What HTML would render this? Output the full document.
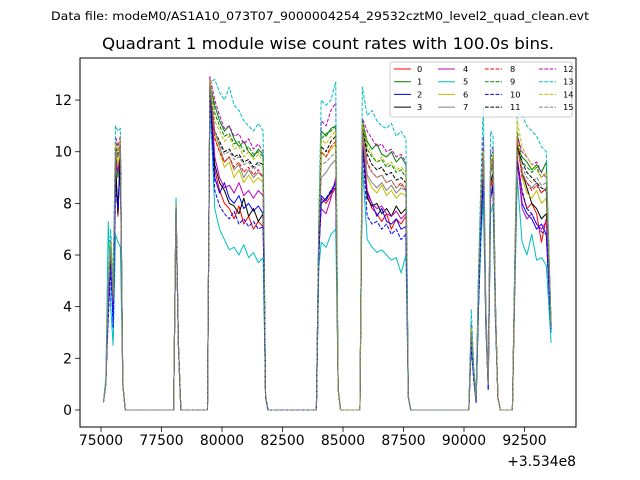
<!DOCTYPE html>
<html><head><meta charset="utf-8"><style>
html,body{margin:0;padding:0;background:#fff;}
svg{display:block;font-family:"DejaVu Sans","Liberation Sans",sans-serif;}
</style></head><body>
<svg id="chart" width="640" height="480" viewBox="0 0 640 480" xmlns="http://www.w3.org/2000/svg">
<rect x="0" y="0" width="640" height="480" fill="#fff"/>
<text x="320" y="20" font-size="11.5" text-anchor="middle" textLength="538" lengthAdjust="spacingAndGlyphs">Data file: modeM0/AS1A10_073T07_9000004254_29532cztM0_level2_quad_clean.evt</text>
<text x="328" y="49" font-size="16" text-anchor="middle" textLength="452" lengthAdjust="spacingAndGlyphs">Quadrant 1 module wise count rates with 100.0s bins.</text>
<g id="plot"></g>
<g id="axes"></g>
<g id="legend"></g>
</svg>
<script>
const times=[75100,75200,75300,75400,75500,75600,75700,75800,75900,76000,
78000,78100,78200,78300,
79400,79500,79700,79900,80100,80300,80500,80700,80900,81100,81300,81500,81700,81800,81900,
83900,84000,84100,84300,84500,84700,84800,84900,
85700,85800,86000,86200,86400,86600,86800,87000,87200,87400,87600,87700,87800,
90200,90300,90400,90500,90600,90700,90800,90900,91000,91100,91200,91300,91400,91500,
92000,92100,92200,92400,92600,92800,93000,93200,93400,93600];
const s0=[.3,1,4.5,6,4,9.5,7.5,10,1,0, 0,7.8,2.5,0, 0,12.5,9.3,8.5,8.0,7.8,7.4,7.9,7.2,7.5,7.0,7.3,7.1,0.5,0, 0,6,8.2,8.0,8.3,8.6,0.8,0, 0,10.5,8.3,7.8,7.6,7.3,7.6,7.0,7.4,7.2,7.5,0.5,0, 0,2.8,1.4,0.4,4.5,7.5,9.3,3.6,1.0,8.6,9.0,3.8,0.5,0, 0,5,9.8,8.4,7.8,8.0,7.6,6.5,7.4,3.2];
const s1=[.3,1,5,6.5,4.5,10,9,10.2,1,0, 0,8,2.5,0, 0,12.6,11.8,11.2,10.8,11,10.5,10.2,10.4,10,9.8,10.1,9.9,0.5,0, 0,7,10.8,10.6,10.9,11,0.8,0, 0,11.2,10.4,10.1,10.3,9.9,9.8,10,9.6,9.8,9.5,0.5,0, 0,3,1.5,0.4,5,8,9.8,3.8,1,9.2,9.4,4,0.5,0, 0,5.5,10.2,9.8,9.6,9.3,9.5,9.2,9.6,3.3];
const s2=[.3,1,4,5.8,3.5,8.8,8,9.5,1,0, 0,7.6,2.5,0, 0,12.4,9.0,8.4,8.8,8.2,8.0,8.3,7.8,8.0,7.7,7.9,7.6,0.5,0, 0,6,8.3,8.1,8.5,8.6,0.8,0, 0,10.3,8.4,8.0,7.5,7.8,7.3,7.2,7.4,7.0,7.1,0.5,0, 0,2.5,1.2,0.3,4,7,9,3.4,0.8,8.2,8.8,3.6,0.5,0, 0,5,9.6,8.0,7.6,7.4,7.0,7.2,6.8,3.0];
const s3=[.3,1,4.5,6,4,9.6,7.6,10,1,0, 0,7.8,2.5,0, 0,12.5,9.5,8.8,8.5,8.0,7.9,7.6,8.2,7.5,7.8,7.3,7.6,0.5,0, 0,6.5,8.0,8.2,8.4,8.8,0.8,0, 0,10.6,8.2,7.9,8.0,7.6,7.8,7.5,7.9,7.6,7.8,0.5,0, 0,3.3,1.5,0.4,4.6,7.6,9.5,3.7,1,8.8,9.2,3.8,0.5,0, 0,5.2,10.4,9.2,8.6,8.0,7.8,7.4,7.6,3.2];
const s4=[.3,1,4,5.5,3.8,9.8,9.2,10.3,1,0, 0,7.9,2.5,0, 0,12.9,9.8,9.0,8.6,8.7,8.4,8.8,8.3,8.5,8.2,8.5,8.3,0.5,0, 0,6.3,7.8,7.6,8.2,9,0.8,0, 0,10.7,8.5,8.0,7.8,7.9,7.6,7.5,7.7,7.4,7.6,0.5,0, 0,3,1.4,0.4,4.8,7.8,9.7,3.8,1,9.4,9.6,3.9,0.5,0, 0,5.3,9.8,7.8,7.4,7.6,7.2,7.0,7.3,3.0];
const s5=[.3,1.2,7.3,4,2.5,6.8,6.5,6.3,1,0, 0,8.2,2.5,0, 0,12.0,7.8,7.0,6.6,6.2,6.3,6.0,6.4,5.9,6.1,5.7,5.9,0.5,0, 0,5.5,6.5,6.3,6.8,7.0,0.8,0, 0,9.5,6.6,6.3,6.1,6.2,6.0,5.8,5.9,5.3,6.0,0.5,0, 0,2.5,1.2,0.3,4,6.5,8.2,3.3,0.9,7.6,8.0,3.4,0.5,0, 0,4.5,9.0,6.5,6.0,6.8,5.8,5.9,5.6,2.6];
const s6=[.3,1,5,6.5,4.5,10.2,9.5,10,1,0, 0,7.8,2.5,0, 0,12.6,10.6,10.0,9.4,9.6,9.0,9.3,8.8,9.1,8.8,9.0,8.8,0.5,0, 0,6.8,10.0,9.8,10.1,10.3,0.8,0, 0,10.9,9.0,8.6,8.4,8.7,8.3,8.5,8.2,8.4,8.3,0.5,0, 0,3.1,1.5,0.4,4.8,8,10,3.9,1,9.5,9.8,4,0.5,0, 0,5.5,10.6,9.0,8.4,8.2,8.5,8.0,8.2,3.2];
const s7=[.3,1,4.8,6.2,4.2,10,9.8,10.1,1,0, 0,7.8,2.5,0, 0,12.5,10.8,10.2,9.6,9.8,9.3,9.5,9.0,9.3,9.0,9.2,9.0,0.5,0, 0,6.8,9.0,9.2,9.5,9.7,0.8,0, 0,10.8,9.1,8.8,8.6,8.8,8.5,8.7,8.4,8.6,8.5,0.5,0, 0,3,1.4,0.4,4.7,7.8,9.8,3.8,1,9.2,9.5,3.9,0.5,0, 0,5.4,10.2,9.2,8.8,8.6,8.8,8.4,8.6,3.2];
const s8=[.3,1,4.8,6.3,4.3,10.3,9.8,10.4,1,0, 0,7.9,2.5,0, 0,12.7,10.5,10.0,9.6,9.8,9.4,9.6,9.2,9.4,9.1,9.3,9.0,0.5,0, 0,7,10.0,9.8,10.2,10.4,0.8,0, 0,11,9.6,9.2,9.0,9.1,8.8,8.9,8.6,8.8,8.5,0.5,0, 0,3,1.5,0.4,4.7,7.9,9.8,3.8,1,9.3,9.6,3.9,0.5,0, 0,5.5,10.4,9.0,8.8,8.5,8.7,8.4,8.6,3.2];
const s9=[.3,1,5,6.5,4.5,10.4,10,10.6,1,0, 0,8,2.5,0, 0,12.8,11.5,11.0,10.6,10.7,10.3,10.4,10.0,10.2,9.9,10.0,9.8,0.5,0, 0,7,10.5,10.7,10.8,11,0.8,0, 0,11.2,10.1,9.8,9.6,9.7,9.4,9.5,9.2,9.3,9.0,0.5,0, 0,3.2,1.5,0.4,5,8.2,10,3.9,1,9.5,9.8,4,0.5,0, 0,5.6,10.8,9.6,9.4,9.2,9.4,9.0,9.2,3.3];
const s10=[.3,1,3.5,5.5,3.2,8.5,7.8,9.3,1,0, 0,7.5,2.5,0, 0,12.3,8.5,7.9,7.6,7.4,7.7,7.2,7.4,7.1,7.3,7.0,7.1,0.5,0, 0,6,8.0,8.2,8.5,8.8,0.8,0, 0,10.2,7.5,7.2,7.3,7.0,7.2,6.8,7.0,6.6,6.8,0.5,0, 0,2.6,1.2,0.3,4,7,9,3.4,0.8,8.2,8.6,3.5,0.5,0, 0,5,9.6,8.5,7.8,7.6,7.2,6.9,6.8,3.0];
const s11=[.3,1,5,6.4,4.4,10.2,9.9,10.4,1,0, 0,7.9,2.5,0, 0,12.6,10.8,10.4,10.0,10.1,9.8,9.9,9.6,9.7,9.4,9.6,9.5,0.5,0, 0,7,10.2,10.0,10.4,10.6,0.8,0, 0,11,9.9,9.5,9.3,9.4,9.1,9.2,8.9,9.0,8.8,0.5,0, 0,3.2,1.5,0.4,5,8.2,10,3.9,1,9.8,10,4,0.5,0, 0,5.6,10.2,9.6,9.2,9.0,8.8,8.6,8.5,3.2];
const s12=[.3,1,5.2,6.6,4.6,10.6,10.2,10.6,1,0, 0,8,2.5,0, 0,12.9,12.0,11.4,10.9,11.0,10.6,10.7,10.3,10.5,10.1,10.3,10.0,0.5,0, 0,7.2,11.2,11.0,11.6,11.9,0.8,0, 0,11.3,10.8,10.5,10.2,10.3,10.0,10.1,9.8,9.9,9.6,0.5,0, 0,3.3,1.6,0.4,5.2,8.5,10.6,4,1,10,10.2,4.1,0.5,0, 0,5.8,10.6,10.0,9.8,9.5,9.6,9.2,9.0,3.3];
const s13=[.3,1.2,5.5,7,5,11,10.8,10.9,1,0, 0,8.2,2.5,0, 0,12.7,12.8,12.3,12.0,12.5,11.8,11.6,11.2,11.0,10.8,11.1,10.8,0.5,0, 0,7.5,12.0,11.8,12.0,12.7,0.8,0, 0,12.5,11.4,11.6,11.2,11.0,10.9,11.1,10.6,10.8,10.5,0.5,0, 0,3.9,1.8,0.5,5.5,9,11.8,4.2,1.1,10.8,10.6,4.3,0.5,0, 0,6,11.5,11.4,11.0,10.8,10.6,10.2,10.0,3.0];
const s14=[.3,1,5,6.5,4.5,10.3,10,10.5,1,0, 0,7.9,2.5,0, 0,12.8,11.2,10.8,10.4,10.6,10.1,10.2,9.8,10.0,9.7,9.9,9.6,0.5,0, 0,7,10.5,10.3,10.6,10.8,0.8,0, 0,11.1,10.3,9.9,9.6,9.8,9.5,9.6,9.3,9.4,9.2,0.5,0, 0,3.2,1.5,0.4,5,8.2,10,3.9,1,9.6,9.9,4,0.5,0, 0,5.6,11.2,10.2,9.8,9.5,9.3,9.0,9.2,3.2];
const s15=[.3,1,4.8,6.3,4.3,10.1,9.8,10.3,1,0, 0,7.8,2.5,0, 0,12.6,10.8,10.3,9.9,10.0,9.7,9.8,9.5,9.6,9.3,9.5,9.4,0.5,0, 0,6.8,9.5,9.6,9.8,10.0,0.8,0, 0,10.9,9.5,9.2,9.0,9.1,8.8,8.9,8.6,8.7,8.6,0.5,0, 0,3,1.5,0.4,4.8,8,9.8,3.8,1,9.3,9.6,3.9,0.5,0, 0,5.4,10.0,9.4,9.0,8.8,9.0,8.7,8.8,3.2];
const seriesNames=["0","1","2","3","4","5","6","7","8","9","10","11","12","13","14","15"];
const xTicks=[75000,77500,80000,82500,85000,87500,90000,92500];
const xTickLabels=["75000","77500","80000","82500","85000","87500","90000","92500"];
const yTicks=[0,2,4,6,8,10,12];
const yTickLabels=["0","2","4","6","8","10","12"];

const allSeries=[s0,s1,s2,s3,s4,s5,s6,s7,s8,s9,s10,s11,s12,s13,s14,s15];
const colors=["#ff0000","#008000","#0000ff","#000000","#bf00bf","#00bfbf","#bfbf00","#808080"];
const NS="http://www.w3.org/2000/svg";
const L=80,R=576,T=58,B=427;
const xMin=74132,xMax=94628,yMin=-0.66,yMax=13.63;
function xs(v){return L+(v-xMin)/(xMax-xMin)*(R-L);}
function ys(v){return B-(v-yMin)/(yMax-yMin)*(B-T);}
function mk(tag,attrs,parent){const e=document.createElementNS(NS,tag);for(const k in attrs)e.setAttribute(k,attrs[k]);parent.appendChild(e);return e;}
const plot=document.getElementById('plot'),axes=document.getElementById('axes'),legend=document.getElementById('legend');

allSeries.forEach((s,i)=>{
  const d=s.map((v,j)=>(j?'L':'M')+xs(times[j]).toFixed(2)+','+ys(v).toFixed(2)).join('');
  const p=mk('path',{d:d,fill:'none',stroke:colors[i%8],'stroke-width':1,'stroke-linejoin':'round'},plot);
  if(i>=8)p.setAttribute('stroke-dasharray','3.7,1.6');
  
  
});

const frame=mk('rect',{x:L,y:T,width:R-L,height:B-T,fill:'none',stroke:'#000','stroke-width':1},axes);


xTicks.forEach((v,i)=>{
  const x=xs(v);
  const t=mk('line',{x1:x,y1:B,x2:x,y2:B+4.9,stroke:'#000','stroke-width':0.8},axes);
  
  
  const lb=mk('text',{x:x,y:B+18,'font-size':13.9,'text-anchor':'middle'},axes);
  lb.textContent=xTickLabels[i];
  
  
});
yTicks.forEach((v,i)=>{
  const y=ys(v);
  const t=mk('line',{x1:L-4.9,y1:y,x2:L,y2:y,stroke:'#000','stroke-width':0.8},axes);
  
  
  const lb=mk('text',{x:L-8,y:y+5,'font-size':13.9,'text-anchor':'end'},axes);
  lb.textContent=yTickLabels[i];
  
  
});
const off=mk('text',{x:576,y:466,'font-size':13.9,'text-anchor':'end'},axes);
off.textContent='+3.534e8';



const box=mk('rect',{x:390,y:62,width:182,height:55,rx:2,fill:'#fff','fill-opacity':0.8,stroke:'#cccccc','stroke-width':1},legend);


const colLine=[394,438,485,539],colText=[417,463,510,563];
seriesNames.forEach((n,i)=>{
  const c=Math.floor(i/4),r=i%4;
  const y=69+r*12.7;
  const g=mk('g',{},legend);
  
  
  const ln=mk('line',{x1:colLine[c],y1:y,x2:colLine[c]+17,y2:y,stroke:colors[i%8],'stroke-width':1},g);
  if(i>=8)ln.setAttribute('stroke-dasharray','3.7,1.6');
  const tx=mk('text',{x:colText[c],y:y+3,'font-size':8.3},g);
  tx.textContent=n;
});
</script>
</body></html>
